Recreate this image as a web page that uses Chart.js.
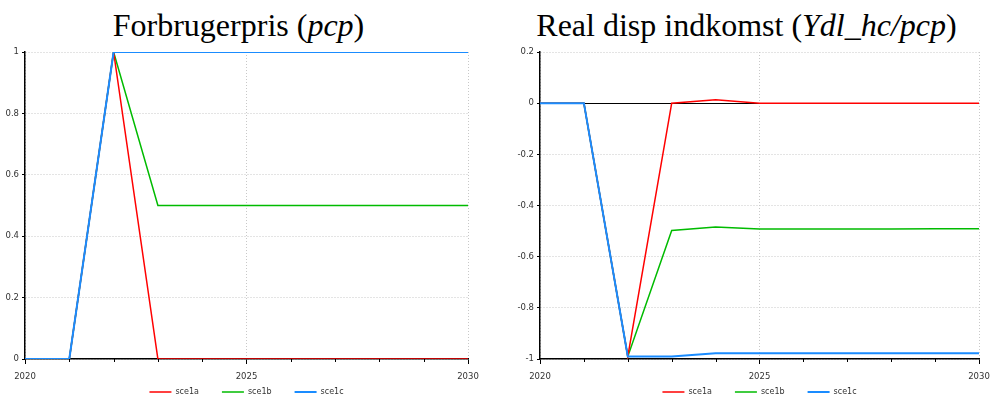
<!DOCTYPE html>
<html>
<head>
<meta charset="utf-8">
<script src="https://cdn.jsdelivr.net/npm/chart.js@4/dist/chart.umd.min.js"></script>
<style>
  html, body { margin: 0; padding: 0; background: #fff; overflow: hidden; }
  body { width: 990px; height: 397px; position: relative; }
  .ttl { position: absolute; top: 9px; font-family: "Liberation Serif", "Times New Roman", serif;
         font-size: 32px; line-height: 32px; color: #000; text-align: center; white-space: nowrap; }
  canvas { position: absolute; top: 40px; }
</style>
</head>
<body>
<div class="ttl" style="left:0;width:477px">Forbrugerpris (<i>pcp</i>)</div>
<div class="ttl" style="left:495px;width:503px">Real disp indkomst (<i>Ydl_hc/pcp</i>)</div>
<canvas id="c1" width="495" height="366" style="left:0"></canvas>
<canvas id="c2" width="495" height="366" style="left:495px"></canvas>
<script>
// Years on the horizontal axis
const years = [2020, 2021, 2022, 2023, 2024, 2025, 2026, 2027, 2028, 2029, 2030];
const seriesNames = ['sce1a', 'sce1b', 'sce1c'];

// Forbrugerpris (pcp)
const pcpSce1a = [0, 0, 1, 0, 0, 0, 0, 0, 0, 0, 0];
const pcpSce1b = [0, 0, 1, 0.5, 0.5, 0.5, 0.5, 0.5, 0.5, 0.5, 0.5];
const pcpSce1c = [0, 0, 1, 1, 1, 1, 1, 1, 1, 1, 1];

// Real disp indkomst (Ydl_hc/pcp)
const ydlSce1a = [0, 0, -0.99, 0, 0.013, 0, 0, 0, 0, 0, 0];
const ydlSce1b = [0, 0, -0.99, -0.498, -0.484, -0.492, -0.492, -0.492, -0.492, -0.491, -0.491];
const ydlSce1c = [0, 0, -0.99, -0.99, -0.978, -0.978, -0.978, -0.978, -0.978, -0.978, -0.978];

const colors = ['#ff0000', '#00bb00', '#1a8cff'];
const widths = [1.5, 1.5, 2];

const tickFont = { family: '"DejaVu Sans", Verdana, sans-serif', size: 8.5 };
const isMajor = v => Math.abs(v % 5) < 1e-9;
const isZero = v => Math.abs(v) < 1e-9;
const fmt = v => String(parseFloat(v.toFixed(1)) + 0);

// Short tick marks for the in-between years
const minorTicks = {
  id: 'minorTicks',
  afterDraw(chart) {
    const xs = chart.scales.x, ctx = chart.ctx;
    ctx.save();
    ctx.strokeStyle = '#000';
    ctx.lineWidth = 1;
    years.forEach(yr => {
      if (isMajor(yr)) return;
      const px = Math.round(xs.getPixelForValue(yr)) + 0.5;
      ctx.beginPath();
      ctx.moveTo(px, xs.top);
      ctx.lineTo(px, xs.top + 3);
      ctx.stroke();
    });
    ctx.restore();
  }
};

function makeChart(id, seriesList, yMin, yMax, yAxisWidth, rightPad) {
  const datasets = seriesList.map((vals, i) => ({
    label: seriesNames[i],
    data: years.map((yr, k) => ({ x: yr, y: vals[k] })),
    borderColor: colors[i],
    backgroundColor: colors[i],
    borderWidth: widths[i],
    pointRadius: 0,
    tension: 0,
    order: i === 2 ? 0 : i + 1
  }));
  return new Chart(document.getElementById(id), {
    type: 'line',
    data: { datasets },
    plugins: [minorTicks],
    options: {
      responsive: false,
      animation: false,
      devicePixelRatio: 1,
      layout: { padding: { top: 12, right: rightPad, bottom: 0, left: 0 } },
      plugins: {
        tooltip: { enabled: false },
        legend: {
          position: 'bottom',
          fullSize: false,
          labels: {
            usePointStyle: true,
            pointStyle: 'line',
            pointStyleWidth: 22,
            padding: 23,
            color: '#333',
            font: { family: '"DejaVu Sans", Verdana, sans-serif', size: 8 },
            sort: (a, b) => a.datasetIndex - b.datasetIndex
          }
        }
      },
      scales: {
        x: {
          type: 'linear',
          min: 2020, max: 2030,
          afterFit(s) { s.height = 6; },
          ticks: {
            // labels hang below the thin axis box
            stepSize: 1, autoSkip: false, maxRotation: 0, mirror: true, padding: -23,
            color: '#333', font: tickFont,
            callback: v => isMajor(v) ? String(v) : ''
          },
          grid: {
            color: c => (c.tick && isMajor(c.tick.value)) ? '#c8c8c8' : 'rgba(0,0,0,0)',
            tickColor: c => (c.tick && isMajor(c.tick.value)) ? '#000' : 'rgba(0,0,0,0)',
            tickLength: 5
          },
          border: { color: '#000', width: 1.5, dash: [1, 2] }
        },
        y: {
          min: yMin, max: yMax,
          afterFit(s) { s.width = yAxisWidth; },
          ticks: { stepSize: 0.2, padding: 3, color: '#333', font: tickFont, callback: v => fmt(v) },
          grid: {
            color: c => (c.tick && isZero(c.tick.value) && yMin < 0) ? '#000' : '#c8c8c8',
            tickColor: '#000',
            tickLength: 3
          },
          border: {
            color: '#000', width: 1.5,
            dash: c => (c.tick && isZero(c.tick.value) && yMin < 0) ? [] : [1, 2]
          }
        }
      }
    }
  });
}

makeChart('c1', [pcpSce1a, pcpSce1b, pcpSce1c], 0, 1, 25, 27);
makeChart('c2', [ydlSce1a, ydlSce1b, ydlSce1c], -1, 0.2, 45, 11);
</script>
</body>
</html>
